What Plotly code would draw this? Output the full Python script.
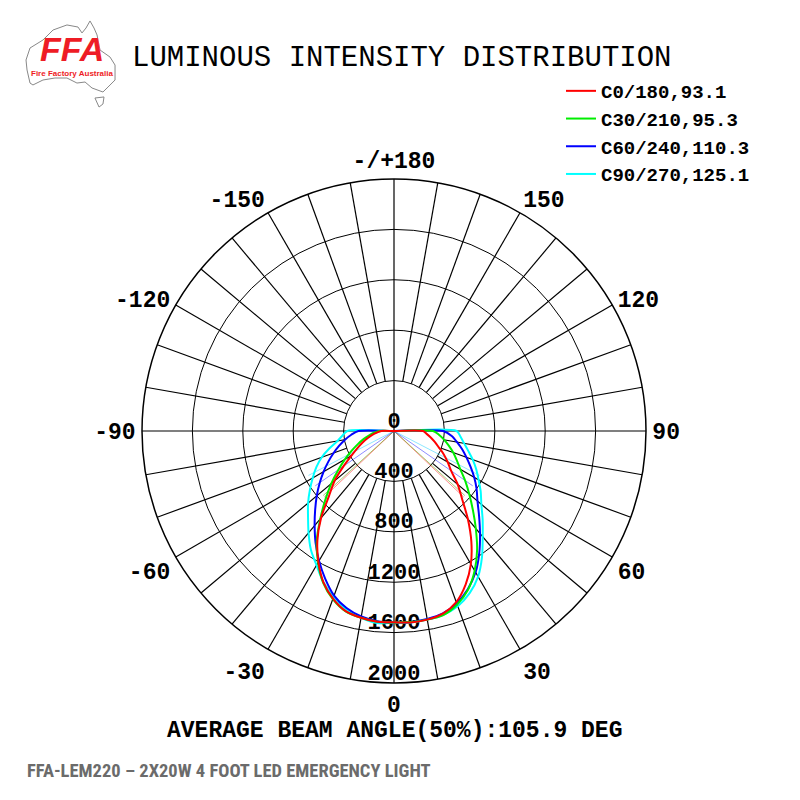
import numpy as np
import plotly.graph_objects as go

# gamma angles (deg from nadir)
GAMMA = list(range(0, 95, 5))

# intensities (cd) per C-plane, right half = C0/C30/C60/C90, left half = C180/C210/C240/C270
C0 = [1518, 1525, 1520, 1500, 1445, 1345, 1220, 1070, 912, 765, 661, 555, 492, 435, 378, 335, 296, 260, 230]
C180 = [1518, 1520, 1505, 1480, 1415, 1325, 1200, 1060, 900, 730, 615, 490, 390, 320, 265, 215, 175, 135, 100]
C30 = [1520, 1522, 1520, 1512, 1465, 1390, 1280, 1150, 1010, 885, 780, 690, 608, 550, 500, 450, 405, 360, 310]
C210 = [1520, 1520, 1505, 1482, 1420, 1330, 1205, 1070, 910, 770, 650, 540, 450, 370, 305, 250, 200, 160, 120]
C60 = [1520, 1522, 1515, 1499, 1455, 1385, 1295, 1180, 1062, 955, 865, 800, 735, 670, 612, 560, 508, 460, 390]
C240 = [1520, 1515, 1495, 1455, 1390, 1293, 1190, 1085, 980, 885, 800, 720, 645, 575, 510, 450, 395, 340, 283]
C90 = [1522, 1525, 1520, 1510, 1480, 1420, 1335, 1218, 1095, 995, 905, 840, 775, 720, 665, 610, 565, 530, 497]
C270 = [1522, 1530, 1505, 1465, 1400, 1325, 1230, 1150, 1055, 965, 890, 815, 745, 680, 610, 530, 455, 410, 370]

LABELS = ["C0/180,93.1", "C30/210,95.3", "C60/240,110.3", "C90/270,125.1"]
BEAM_ANGLES = [93.1, 95.3, 110.3, 125.1]
AVG_BEAM = 105.9

RADIAL_TICKS = [0, 400, 800, 1200, 1600, 2000]
ANGLE_TICKS = list(range(0, 360, 30))
ANGLE_TEXT = ["0", "30", "60", "90", "120", "150", "-/+180", "-150", "-120", "-90", "-60", "-30"]

COLORS = ["#ff0000", "#00ee00", "#0000ff", "#00ffff"]
THIN = ["rgba(255,0,0,0.45)", "rgba(90,160,0,0.55)", "rgba(0,0,255,0.45)", "rgba(0,200,255,0.45)"]

W, H = 800, 800
OFF = 8  # page body margin
CX, CY, RAD = 394, 431, 252
MONO = "Liberation Mono, Courier New, monospace"
LABEL_LIFT = 70  # radial labels sit a little inside their circle


def px(x, y):
    # screen pixel (as seen on the page) -> paper coords
    return (x - OFF) / W, 1 - (y - OFF) / H


def plane(right, left):
    theta = [-95] + [-g for g in GAMMA[::-1]] + GAMMA[1:] + [95]
    r = [0] + left[::-1] + right[1:] + [0]
    return theta, r


fig = go.Figure()

# spokes every 10 deg, starting at the 400 circle (axes go through the centre)
sp_t, sp_r = [], []
for a in range(0, 360, 10):
    r0 = 0 if a % 90 == 0 else RADIAL_TICKS[1]
    sp_t += [a, a, None]
    sp_r += [r0, RADIAL_TICKS[-1], None]
fig.add_trace(go.Scatterpolar(theta=sp_t, r=sp_r, mode="lines",
                              line=dict(color="black", width=1.2),
                              showlegend=False, hoverinfo="skip"))

# radial value labels down the 0 line
lab_r = [abs(v - LABEL_LIFT) for v in RADIAL_TICKS]
lab_t = [0 if v >= LABEL_LIFT else 180 for v in RADIAL_TICKS]
fig.add_trace(go.Scatterpolar(theta=lab_t, r=lab_r,
                              mode="text", text=[str(v) for v in RADIAL_TICKS],
                              textposition="middle center", cliponaxis=False,
                              textfont=dict(family=MONO, size=22, color="black", weight="bold"),
                              showlegend=False, hoverinfo="skip"))

planes = [(C0, C180), (C30, C210), (C60, C240), (C90, C270)]

# 50% beam lines
for i, (right, left) in enumerate(planes):
    half = 0.5 * max(right + left)
    b = BEAM_ANGLES[i] / 2
    fig.add_trace(go.Scatterpolar(theta=[-b, 0, b], r=[half, 0, half], mode="lines",
                                  line=dict(color=THIN[i], width=1),
                                  showlegend=False, hoverinfo="skip"))

# curves, drawn cyan first so red ends on top
for i in [3, 2, 1, 0]:
    right, left = planes[i]
    t, r = plane(right, left)
    fig.add_trace(go.Scatterpolar(theta=t, r=r, mode="lines", name=LABELS[i],
                                  line=dict(color=COLORS[i], width=2, shape="spline", smoothing=0.8)))

x0, y1 = px(CX - RAD, CY - RAD)
x1, y0 = px(CX + RAD, CY + RAD)

lx, ly = px(561, 72)
fig.update_layout(
    width=W, height=H,
    margin=dict(l=0, r=0, t=0, b=0),
    paper_bgcolor="white",
    polar=dict(
        domain=dict(x=[x0, x1], y=[y0, y1]),
        bgcolor="white",
        radialaxis=dict(range=[0, 2000], tickvals=RADIAL_TICKS[1:], showticklabels=False,
                        ticks="", showline=False, showgrid=True,
                        gridcolor="black", gridwidth=1.2),
        angularaxis=dict(rotation=270, direction="counterclockwise",
                         tickvals=ANGLE_TICKS, ticktext=ANGLE_TEXT,
                         showgrid=False, showline=True, linecolor="black", linewidth=1.5,
                         ticks="outside", ticklen=1, tickcolor="rgba(0,0,0,0)",
                         tickfont=dict(family=MONO, size=23, color="black", weight="bold")),
    ),
    showlegend=True,
    legend=dict(x=lx, y=ly, xanchor="left", yanchor="top",
                traceorder="reversed", bgcolor="rgba(0,0,0,0)",
                font=dict(family=MONO, size=19, color="black", weight="bold"),
                itemwidth=30),
)

# title and captions
ax, ay = px(130, 58)
fig.add_annotation(x=ax, y=ay, xref="paper", yref="paper", xanchor="left", yanchor="middle",
                   text="LUMINOUS INTENSITY DISTRIBUTION", showarrow=False,
                   font=dict(family=MONO, size=29, color="black"))
ax, ay = px(CX, 731)
fig.add_annotation(x=ax, y=ay, xref="paper", yref="paper", xanchor="center", yanchor="middle",
                   text=f"AVERAGE BEAM ANGLE(50%):{AVG_BEAM} DEG", showarrow=False,
                   borderpad=0,
                   font=dict(family=MONO, size=23, color="black", weight="bold"))
ax, ay = px(25, 771)
fig.add_annotation(x=ax, y=ay, xref="paper", yref="paper", xanchor="left", yanchor="middle",
                   text="FFA-LEM220 – 2X20W 4 FOOT LED EMERGENCY LIGHT", showarrow=False,
                   font=dict(family="Roboto Condensed, Liberation Sans Narrow, Liberation Sans",
                             size=18.5, color="#6b6b6b", weight="bold"))

# logo: rough outline of Australia + FFA lettering
outline = [(26, 60), (30, 48), (43, 40), (53, 30), (67, 25), (78, 27), (82, 33), (86, 28),
           (90, 21), (94, 28), (97, 35), (100, 50), (110, 57), (115, 65), (115, 80),
           (108, 87), (103, 92), (92, 88), (85, 82), (77, 83), (67, 78), (55, 78), (43, 80),
           (33, 85), (30, 83), (27, 70)]
tas = [(95, 98), (104, 97), (103, 104), (99, 107)]
for pts in (outline, tas):
    path = "M " + " L ".join(f"{px(x, y)[0]:.4f},{px(x, y)[1]:.4f}" for x, y in pts) + " Z"
    fig.add_shape(type="path", path=path, xref="paper", yref="paper",
                  line=dict(color="#888888", width=1), fillcolor="rgba(0,0,0,0)")

ax, ay = px(72, 49)
fig.add_annotation(x=ax, y=ay, xref="paper", yref="paper", xanchor="center", yanchor="middle",
                   text="<i>FFA</i>", showarrow=False,
                   font=dict(family="Liberation Sans, Arial", size=34, color="#ee1c25", weight="bold"))
ax, ay = px(72, 73)
fig.add_annotation(x=ax, y=ay, xref="paper", yref="paper", xanchor="center", yanchor="middle",
                   text="Fire Factory Australia", showarrow=False,
                   font=dict(family="Liberation Sans, Arial", size=8, color="#ee1c25", weight="bold"))

fig.write_html("out.html")
